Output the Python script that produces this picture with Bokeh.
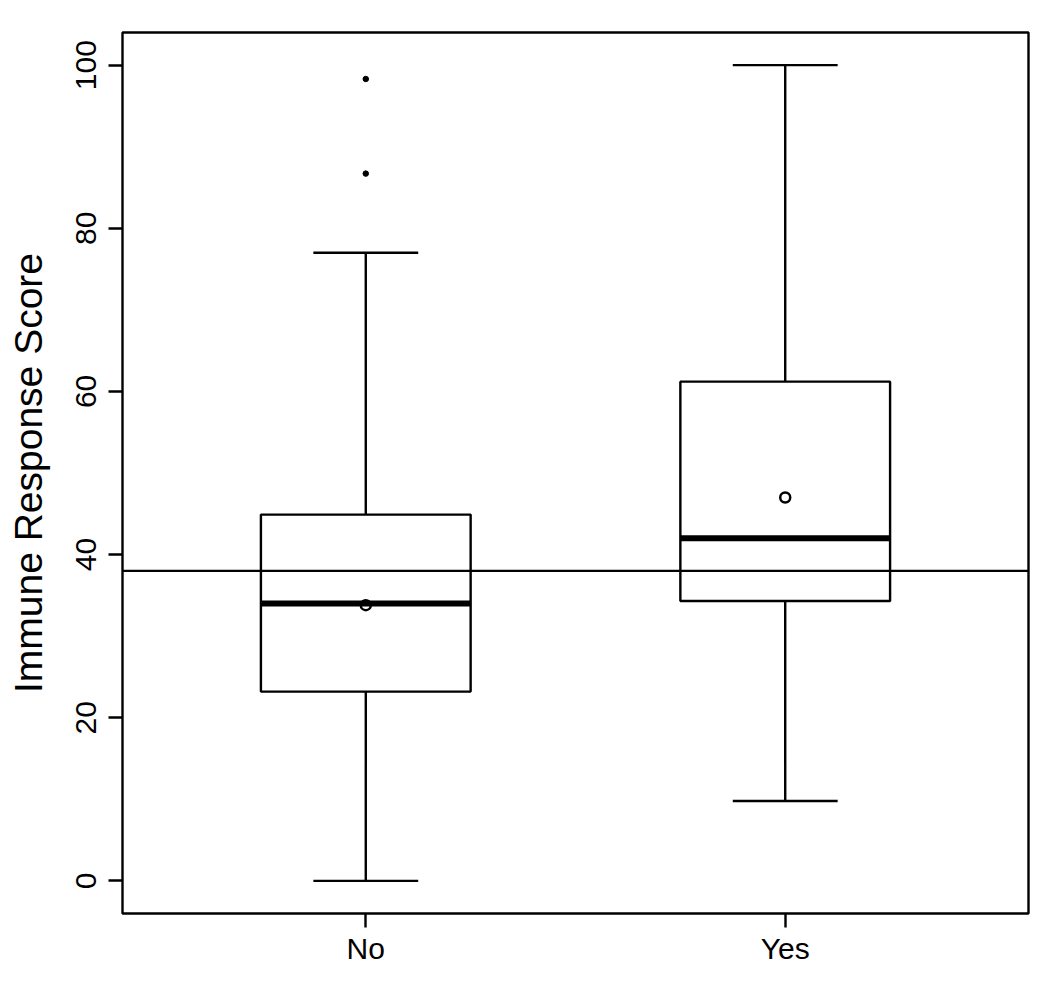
from bokeh.plotting import figure
from bokeh.models import FixedTicker, Span, Range1d, ColumnDataSource
from bokeh.embed import file_html
from bokeh.resources import INLINE

# ---- data ----
categories = ["No", "Yes"]
positions = [1, 2]
lower_whisker = [0.0, 9.8]
q1 = [23.2, 34.3]
median = [34.0, 42.0]
q3 = [44.9, 61.2]
upper_whisker = [77.0, 100.0]
means = [33.8, 47.0]
outlier_x = [1, 1]
outlier_y = [86.7, 98.3]
reference_line = 38.0
y_ticks = [0, 20, 40, 60, 80, 100]

FONT = "Liberation Sans"
box_half = 0.25
cap_half = 0.125
LW = 2.4

p = figure(width=1034, height=977, output_backend="svg", toolbar_location=None,
           x_range=Range1d(0.42, 2.58), y_range=Range1d(-4, 104),
           min_border_left=122, min_border_right=6, min_border_top=32, min_border_bottom=64)
p.background_fill_color = "white"
p.border_fill_color = "white"
p.outline_line_color = "black"
p.outline_line_width = LW
p.xgrid.visible = False
p.ygrid.visible = False

src = ColumnDataSource(dict(
    x=positions, lw=lower_whisker, q1=q1, med=median, q3=q3, uw=upper_whisker, mean=means,
    left=[x - box_half for x in positions], right=[x + box_half for x in positions],
    cl=[x - cap_half for x in positions], cr=[x + cap_half for x in positions],
))

# whiskers
p.segment(x0="x", y0="q3", x1="x", y1="uw", source=src, line_color="black", line_width=LW)
p.segment(x0="x", y0="q1", x1="x", y1="lw", source=src, line_color="black", line_width=LW)
p.segment(x0="cl", y0="uw", x1="cr", y1="uw", source=src, line_color="black", line_width=LW)
p.segment(x0="cl", y0="lw", x1="cr", y1="lw", source=src, line_color="black", line_width=LW)
# boxes
p.quad(left="left", right="right", bottom="q1", top="q3", source=src,
       fill_color=None, line_color="black", line_width=LW)
# means
p.scatter(x="x", y="mean", source=src, marker="circle", size=10,
          fill_color="white", line_color="black", line_width=2.5)
# medians
p.segment(x0="left", y0="med", x1="right", y1="med", source=src, line_color="black", line_width=6)
# outliers
p.scatter(x=outlier_x, y=outlier_y, marker="circle", size=5.5, fill_color="black", line_color="black")
# reference line
p.add_layout(Span(location=reference_line, dimension="width", line_color="black", line_width=LW))

# axes
p.xaxis.ticker = FixedTicker(ticks=positions)
p.xaxis.major_label_overrides = {pos: c for pos, c in zip(positions, categories)}
p.yaxis.ticker = FixedTicker(ticks=y_ticks)
p.yaxis.axis_label = "Immune Response Score"
p.yaxis.major_label_orientation = "vertical"

for ax in (p.xaxis[0], p.yaxis[0]):
    ax.axis_line_color = None
    ax.major_tick_in = 0
    ax.major_tick_out = 14
    ax.major_tick_line_width = LW
    ax.major_tick_line_color = "black"
    ax.minor_tick_line_color = None
    ax.major_label_text_font = FONT
    ax.major_label_text_font_size = "30px"
    ax.major_label_text_color = "black"

p.xaxis.major_label_standoff = 4
p.yaxis.major_label_standoff = 12
p.yaxis.axis_label_text_font = FONT
p.yaxis.axis_label_text_font_size = "39px"
p.yaxis.axis_label_text_font_style = "normal"
p.yaxis.axis_label_text_color = "black"
p.yaxis.axis_label_standoff = 24

open("out.html", "w").write(file_html(p, INLINE))
